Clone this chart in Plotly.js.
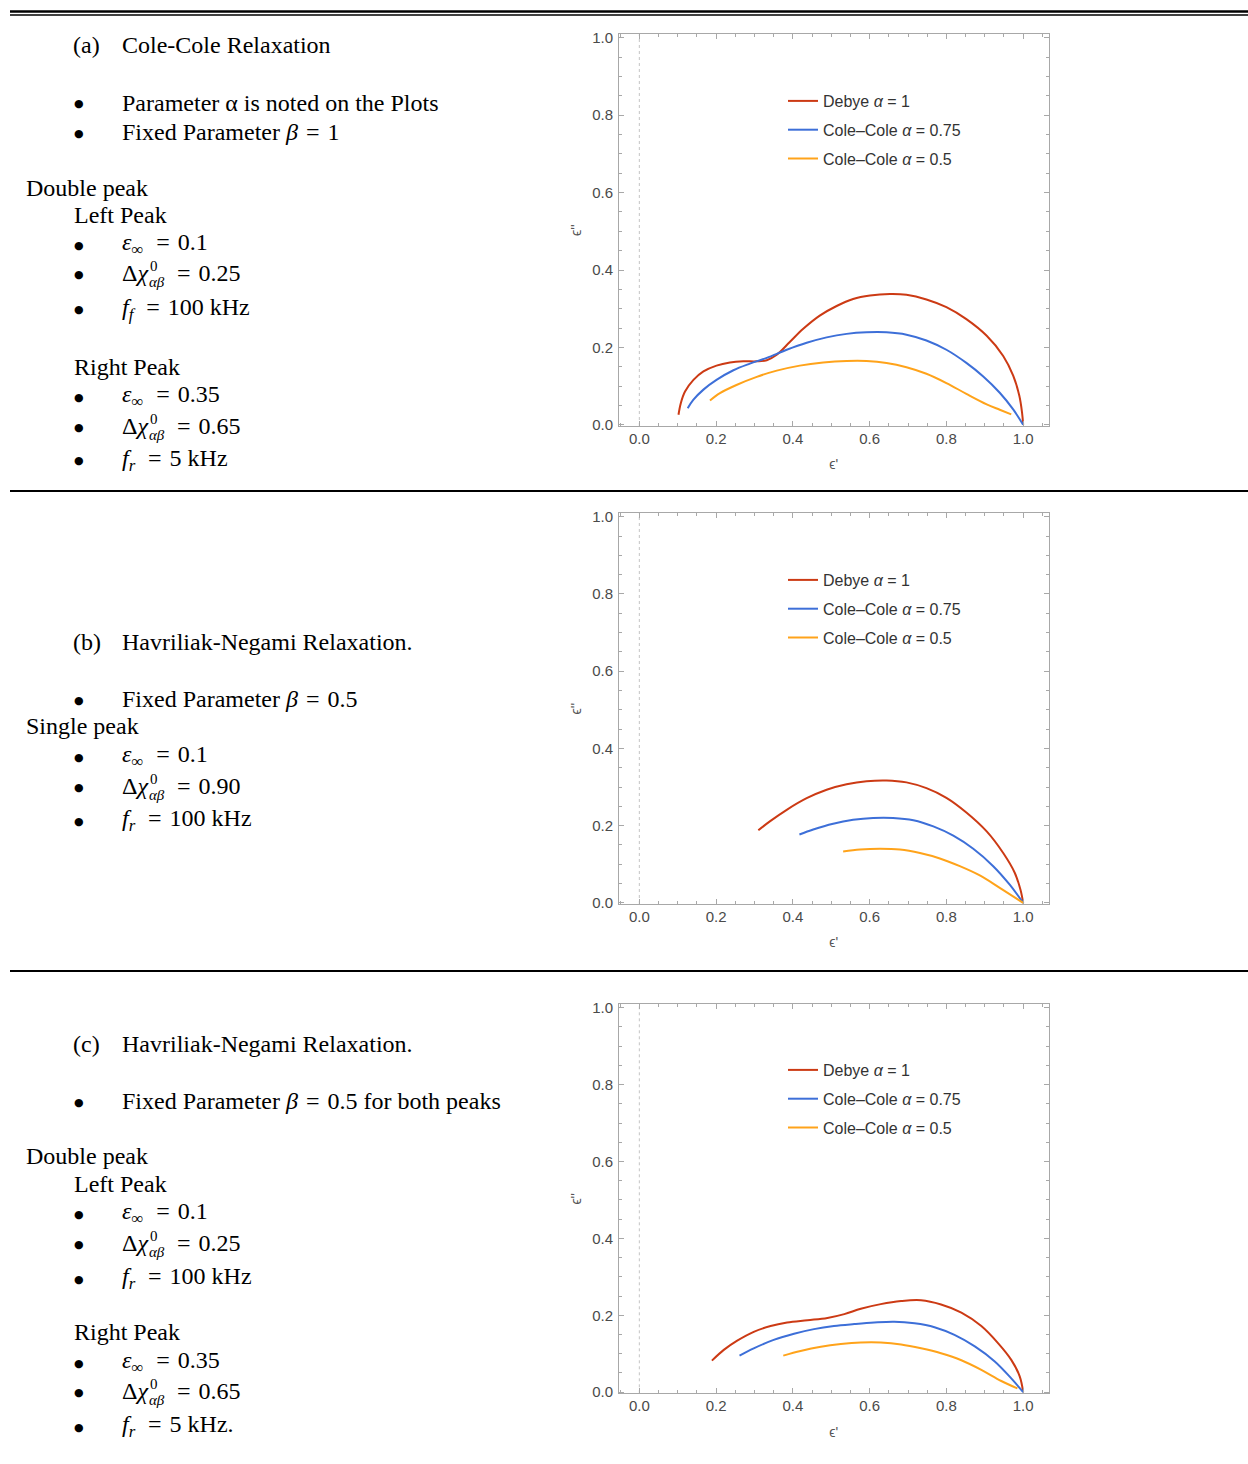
<!DOCTYPE html>
<html><head><meta charset="utf-8">
<script src="https://cdn.plot.ly/plotly-3.0.1.min.js"></script>
<style>html,body{margin:0;padding:0;background:#fff;} #chart{width:1248px;height:1464px;}</style>
</head><body><div id="chart"></div>
<script>
const W = 1248, H = 1464;

// ---------- data ----------
const seriesNames = ['Debye <i>α</i> = 1', 'Cole\u2013Cole <i>α</i> = 0.75', 'Cole\u2013Cole <i>α</i> = 0.5'];
const seriesColors = ['#cc3a14', '#3d6fd8', '#ffa31a'];

// Panel (a): Cole-Cole, double peak
const aDebyeX = [0.102,0.108,0.119,0.141,0.167,0.201,0.236,0.271,0.306,0.332,0.358,0.392,0.427,0.470,0.514,0.557,0.601,0.653,0.696,0.748,0.800,0.852,0.905,0.948,0.974,0.990,0.997,1.000];
const aDebyeY = [0.026,0.056,0.086,0.116,0.138,0.153,0.161,0.164,0.164,0.167,0.181,0.214,0.248,0.282,0.307,0.325,0.334,0.338,0.336,0.324,0.304,0.273,0.230,0.178,0.127,0.075,0.032,0.000];
const aCC75X = [0.126,0.141,0.167,0.201,0.245,0.288,0.332,0.384,0.436,0.488,0.540,0.592,0.644,0.696,0.748,0.800,0.852,0.896,0.939,0.974,1.000];
const aCC75Y = [0.043,0.065,0.091,0.116,0.141,0.158,0.173,0.194,0.212,0.226,0.235,0.239,0.239,0.233,0.218,0.194,0.160,0.125,0.083,0.040,0.000];
const aCC50X = [0.184,0.210,0.253,0.306,0.358,0.418,0.479,0.540,0.592,0.644,0.696,0.748,0.800,0.852,0.905,0.939,0.969];
const aCC50Y = [0.063,0.082,0.103,0.124,0.140,0.153,0.161,0.165,0.165,0.160,0.149,0.132,0.108,0.080,0.053,0.039,0.027];

// Panel (b): Havriliak-Negami, single peak
const bDebyeX = [0.310,0.340,0.384,0.436,0.488,0.540,0.592,0.644,0.696,0.748,0.800,0.852,0.905,0.948,0.978,0.993,1.000];
const bDebyeY = [0.188,0.211,0.241,0.271,0.293,0.307,0.315,0.317,0.312,0.297,0.272,0.234,0.185,0.129,0.078,0.034,0.000];
const bCC75X = [0.417,0.453,0.505,0.557,0.609,0.661,0.714,0.766,0.818,0.870,0.922,0.965,1.000];
const bCC75Y = [0.177,0.190,0.205,0.215,0.220,0.220,0.214,0.198,0.174,0.140,0.095,0.047,0.000];
const bCC50X = [0.531,0.575,0.627,0.679,0.731,0.783,0.835,0.887,0.939,1.000];
const bCC50Y = [0.133,0.138,0.140,0.138,0.129,0.115,0.095,0.071,0.039,0.000];

// Panel (c): Havriliak-Negami, double peak
const cDebyeX = [0.189,0.220,0.255,0.298,0.342,0.385,0.438,0.490,0.534,0.577,0.629,0.682,0.734,0.786,0.839,0.891,0.935,0.969,0.991,1.000];
const cDebyeY = [0.082,0.110,0.134,0.157,0.172,0.181,0.187,0.193,0.203,0.217,0.229,0.237,0.239,0.228,0.207,0.172,0.127,0.084,0.041,0.000];
const cCC75X = [0.261,0.298,0.350,0.403,0.455,0.507,0.560,0.612,0.664,0.717,0.769,0.821,0.874,0.926,0.969,1.000];
const cCC75Y = [0.095,0.114,0.136,0.152,0.164,0.172,0.177,0.181,0.183,0.179,0.169,0.149,0.119,0.080,0.036,0.000];
const cCC50X = [0.375,0.420,0.473,0.525,0.577,0.629,0.682,0.734,0.786,0.839,0.891,0.943,0.985];
const cCC50Y = [0.095,0.107,0.118,0.125,0.129,0.129,0.124,0.114,0.101,0.083,0.058,0.029,0.010];

const xTickVals = [0, 0.2, 0.4, 0.6, 0.8, 1.0];
const xTickText = ['0.0', '0.2', '0.4', '0.6', '0.8', '1.0'];
const yTickVals = [0, 0.2, 0.4, 0.6, 0.8, 1.0];
const yTickText = ['0.0', '0.2', '0.4', '0.6', '0.8', '1.0'];
const xLabel = "\u03f5'";
const yLabel = "\u03f5''";

const panelSeries = [
  [[aDebyeX, aDebyeY], [aCC75X, aCC75Y], [aCC50X, aCC50Y]],
  [[bDebyeX, bDebyeY], [bCC75X, bCC75Y], [bCC50X, bCC50Y]],
  [[cDebyeX, cDebyeY], [cCC75X, cCC75Y], [cCC50X, cCC50Y]]
];

// left-hand text blocks: [kind, y(px), text/value]
const textA = [
  ['head', 45, '(a)', 'Cole-Cole Relaxation'],
  ['bullet', 103, 'Parameter α is noted on the Plots'],
  ['bullet', 132, 'Fixed Parameter <i>β</i>\u2004=\u20041'],
  ['plain0', 188, 'Double peak'],
  ['plain1', 215, 'Left Peak'],
  ['eps', 244, '0.1'],
  ['chi', 273, '0.25'],
  ['freq', 309, 'f', '100 kHz'],
  ['plain1', 367, 'Right Peak'],
  ['eps', 396, '0.35'],
  ['chi', 426, '0.65'],
  ['freq', 460, 'r', '5 kHz']
];
const textB = [
  ['head', 642, '(b)', 'Havriliak-Negami Relaxation.'],
  ['bullet', 699, 'Fixed Parameter <i>β</i>\u2004=\u20040.5'],
  ['plain0', 726, 'Single peak'],
  ['eps', 756, '0.1'],
  ['chi', 786, '0.90'],
  ['freq', 820, 'r', '100 kHz']
];
const textC = [
  ['head', 1044, '(c)', 'Havriliak-Negami Relaxation.'],
  ['bullet', 1101, 'Fixed Parameter <i>β</i>\u2004=\u20040.5 for both peaks'],
  ['plain0', 1156, 'Double peak'],
  ['plain1', 1184, 'Left Peak'],
  ['eps', 1213, '0.1'],
  ['chi', 1243, '0.25'],
  ['freq', 1278, 'r', '100 kHz'],
  ['plain1', 1332, 'Right Peak'],
  ['eps', 1362, '0.35'],
  ['chi', 1391, '0.65'],
  ['freq', 1426, 'r', '5 kHz.']
];

// ---------- layout geometry ----------
const plotLeft = 619, plotRight = 1048.5;
const panelBoxes = [[34.3, 426], [513.3, 904], [1004.3, 1393.3]];
const legendTops = [84, 563, 1053];
const legendLeft = 783;
const ruleLines = [[11.5, 2.5], [15, 1.5], [491, 2], [971, 2]];

const px = v => v / W;
const py = v => 1 - v / H;

const SERIF = 'Liberation Serif, Times New Roman, serif';
const SANS = 'Liberation Sans, Arial, sans-serif';
const frameColor = '#a8a8a8';
const tickFontColor = '#4a4a4a';

const traces = [];
const layout = {
  width: W, height: H,
  margin: {l: 0, r: 0, t: 0, b: 0},
  paper_bgcolor: '#fff', plot_bgcolor: '#fff',
  showlegend: true,
  annotations: [], shapes: []
};

panelSeries.forEach((series, p) => {
  const xa = p === 0 ? 'x' : 'x' + (p + 1);
  const ya = p === 0 ? 'y' : 'y' + (p + 1);
  const lg = p === 0 ? 'legend' : 'legend' + (p + 1);
  series.forEach((s, k) => {
    traces.push({
      type: 'scatter', mode: 'lines', x: s[0], y: s[1],
      xaxis: xa, yaxis: ya, legend: lg, legendgroup: 'g' + p + k,
      name: seriesNames[k], line: {color: seriesColors[k], width: 2, shape: 'spline', smoothing: 1},
      hoverinfo: 'skip'
    });
  });
  const [top, bot] = panelBoxes[p];
  const common = {
    showgrid: false, zeroline: false, showline: true, linecolor: frameColor, linewidth: 1,
    mirror: 'allticks', ticks: 'inside', ticklen: 5, tickcolor: frameColor, tickwidth: 1,
    minor: {dtick: 0.05, tick0: 0, ticks: 'inside', ticklen: 3, tickcolor: frameColor, showgrid: false},
    tickfont: {family: SANS, size: 15, color: tickFontColor},
    fixedrange: true
  };
  layout[p === 0 ? 'xaxis' : 'xaxis' + (p + 1)] = Object.assign({}, common, {
    domain: [px(plotLeft), px(plotRight)], range: [-0.053, 1.066], anchor: ya,
    tickmode: 'array', tickvals: xTickVals, ticktext: xTickText, ticklabelstandoff: -1,
    title: {text: xLabel, font: {family: SANS, size: 14, color: '#555'}, standoff: 13}
  });
  layout[p === 0 ? 'yaxis' : 'yaxis' + (p + 1)] = Object.assign({}, common, {
    domain: [py(bot), py(top)], range: [-0.003, 1.009], anchor: xa,
    tickmode: 'array', tickvals: yTickVals, ticktext: yTickText, ticklabelstandoff: 2,
    title: {text: yLabel, font: {family: SANS, size: 14, color: '#555'}, standoff: 7}
  });
  layout[lg] = {
    x: px(legendLeft), xanchor: 'left', y: py(legendTops[p]), yanchor: 'top',
    bgcolor: 'rgba(0,0,0,0)', borderwidth: 0, tracegroupgap: 5,
    font: {family: SANS, size: 16, color: '#333'}, itemclick: false, itemdoubleclick: false
  };
  layout.shapes.push({
    type: 'line', xref: xa, yref: ya + ' domain', x0: 0, x1: 0, y0: 0, y1: 1,
    line: {color: '#c4c4c4', width: 1, dash: 'dot'}, layer: 'below'
  });
});

ruleLines.forEach(([y, w]) => {
  layout.shapes.push({type: 'line', xref: 'paper', yref: 'paper', x0: px(10), x1: 1, y0: py(y), y1: py(y),
    line: {color: '#000', width: w}});
});

const xAdj = -1;
function ann(x, y, text, size, anchor, family) {
  layout.annotations.push({
    xref: 'paper', yref: 'paper', x: px(x + xAdj), y: py(y), text: text, showarrow: false,
    xanchor: anchor || 'left', yanchor: 'middle', borderpad: 0,
    font: {family: family || SERIF, size: size || 24, color: '#000'}
  });
}
const bulletX = 80, textX = 122;
[textA, textB, textC].forEach(block => {
  block.forEach(r => {
    const [kind, y] = r;
    if (kind === 'head') { ann(73, y, r[2]); ann(textX, y, r[3]); }
    else if (kind === 'plain0') ann(26, y, r[2]);
    else if (kind === 'plain1') ann(74, y, r[2]);
    else {
      ann(bulletX, y + 1, '\u25cf', 11, 'center', 'DejaVu Sans');
      if (kind === 'bullet') ann(textX, y, r[2]);
      else if (kind === 'eps') ann(textX, y, '<i>ε</i><sub>∞</sub>\u2004\u2009=\u2004' + r[2]);
      else if (kind === 'freq') ann(textX, y, '<i>f</i><sub><i>' + r[2] + '</i></sub>\u2004\u2009=\u2004' + r[3]);
      else if (kind === 'chi') {
        ann(textX, y, 'Δ<i>χ</i>');
        ann(150, y - 7, '0', 15);
        ann(149, y + 9, '<i>αβ</i>', 15);
        ann(177, y, '=\u2004' + r[2]);
      }
    }
  });
});

Plotly.newPlot('chart', traces, layout, {staticPlot: true, displayModeBar: false});
</script></body></html>
